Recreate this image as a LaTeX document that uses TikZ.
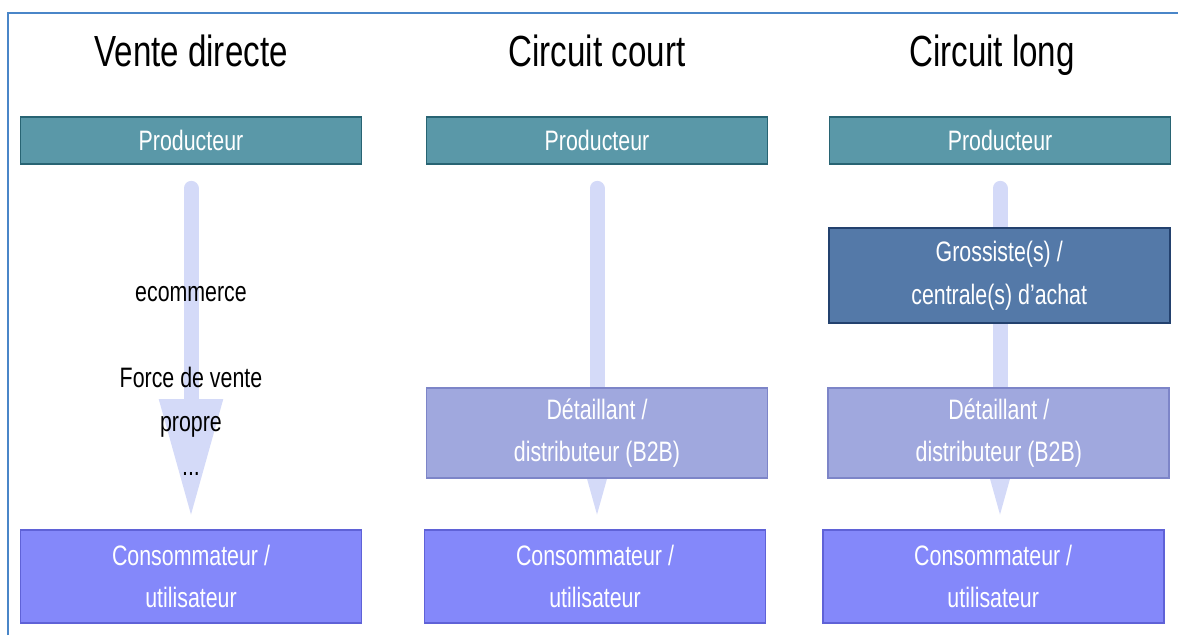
\documentclass[tikz,border=0pt]{standalone}
\usepackage{fontspec}
\setmainfont{Liberation Sans}[FakeStretch=0.76]
\usepackage{xcolor}
\usepackage{tikz}
\usetikzlibrary{arrows.meta}
\usetikzlibrary{backgrounds}

\definecolor{bordcadre}{RGB}{74,134,200}
\definecolor{fleche}{RGB}{212,218,248}
\definecolor{prodfond}{RGB}{90,152,168}
\definecolor{prodbord}{RGB}{40,100,115}
\definecolor{grosfond}{RGB}{84,121,168}
\definecolor{grosbord}{RGB}{35,65,110}
\definecolor{detfond}{RGB}{160,168,222}
\definecolor{detbord}{RGB}{125,133,200}
\definecolor{consfond}{RGB}{132,136,250}
\definecolor{consbord}{RGB}{95,98,215}

\newcommand{\TailleTitre}{\fontsize{31}{36}\selectfont}
\newcommand{\TailleBoite}{\fontsize{20}{30.5}\selectfont}
\newcommand{\TailleCanal}{\fontsize{20}{30}\selectfont}

\tikzset{
    boite/.style={draw,line width=1.2pt,text=white,align=center,
                  minimum width=8.525cm,inner sep=0pt,font=\TailleBoite},
    producteur/.style={boite,fill=prodfond,draw=prodbord,minimum height=1.175cm},
    grossiste/.style={boite,fill=grosfond,draw=grosbord,minimum height=2.375cm},
    detaillant/.style={boite,fill=detfond,draw=detbord,minimum height=2.25cm},
    consommateur/.style={boite,fill=consfond,draw=consbord,minimum height=2.325cm},
    titre/.style={anchor=base,font=\TailleTitre},
    canal/.style={anchor=base,font=\TailleCanal},
    flux/.style={draw=fleche,line width=0.375cm,line cap=round,
                 -{Triangle[width=1.5cm,length=2.95cm]}}
}

\begin{document}
\begin{tikzpicture}

    \useasboundingbox (0,0) rectangle (29.45,15.875);

        % Cadre (bord gauche et haut)
    \draw[bordcadre,line width=1.4pt] (0.2,0) -- (0.2,15.55) -- (29.45,15.55);

    \pgfmathsetmacro{\yProd}{12.3625}
    \pgfmathsetmacro{\yGros}{8.9875}
    \pgfmathsetmacro{\yDet}{5.05}
    \pgfmathsetmacro{\yCons}{1.4625}

        % Premier circuit: vente directe
    \begin{scope}[xshift=4.775cm]
        \node[titre] (titreA) at (0,14.2) {Vente directe};
        \node[producteur] (prodA) at (0,\yProd) {Producteur};
        \node[consommateur] (consA) at (0,\yCons) {Consommateur /\\utilisateur};

        \node[canal] (ecom) at (0,8.325) {ecommerce};
        \node[canal] (force) at (0,6.175) {Force de vente};
        \node[canal] (propre) at (0,5.075) {propre};
        \node[canal] (autres) at (0,3.975) {...};

        \begin{scope}[on background layer]
            \draw[flux] ([yshift=-0.5875cm]prodA.south) -- ([yshift=0.3cm]consA.north);
        \end{scope}
    \end{scope}

        % Deuxieme circuit: circuit court
    \begin{scope}[xshift=14.925cm]
        \node[titre] (titreB) at (0,14.2) {Circuit court};
        \node[producteur] (prodB) at (0,\yProd) {Producteur};
        \node[detaillant] (detB) at (0,\yDet) {Détaillant /\\distributeur (B2B)};
        \node[consommateur] (consB) at (-0.05,\yCons) {Consommateur /\\utilisateur};

        \begin{scope}[on background layer]
            \draw[flux] ([yshift=-0.5875cm]prodB.south) -- ([yshift=0.3cm]prodB.south |- consB.north);
        \end{scope}
    \end{scope}

        % Troisieme circuit: circuit long
    \begin{scope}[xshift=25cm]
        \node[titre] (titreC) at (-0.2,14.2) {Circuit long};
        \node[producteur] (prodC) at (0,\yProd) {Producteur};
        \node[grossiste] (grosC) at (-0.02,\yGros) {Grossiste(s) /\\centrale(s) d'achat};
        \node[detaillant] (detC) at (-0.03,\yDet) {Détaillant /\\distributeur (B2B)};
        \node[consommateur] (consC) at (-0.17,\yCons) {Consommateur /\\utilisateur};

        \begin{scope}[on background layer]
            \draw[flux] ([yshift=-0.5875cm]prodC.south) -- ([yshift=0.3cm]prodC.south |- consC.north);
        \end{scope}
    \end{scope}

\end{tikzpicture}
\end{document}
